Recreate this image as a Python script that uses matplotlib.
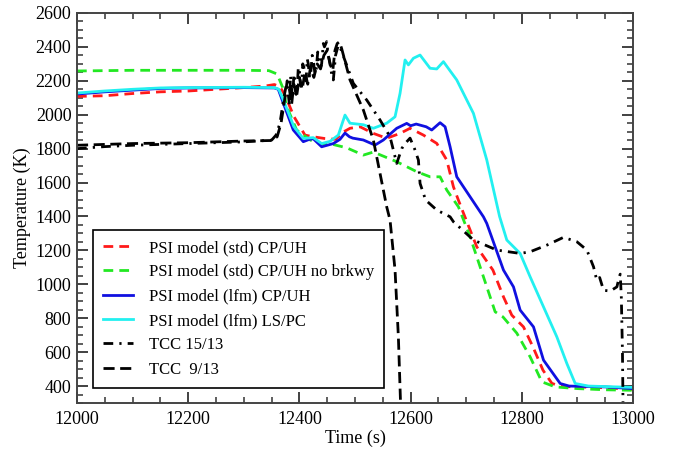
from matplotlib import pyplot as plt
from matplotlib.ticker import MultipleLocator

# Data
# PSI model (std) CP/UH
red_t = [12000, 12050, 12100, 12150, 12200, 12250, 12300, 12340, 12355, 12365, 12375, 12390,
         12410, 12425, 12445, 12465, 12480, 12491, 12509, 12533, 12557, 12581, 12599, 12623,
         12647, 12665, 12677, 12686, 12695, 12719, 12748, 12767, 12782, 12803, 12820, 12838,
         12854, 12870, 12950, 13000]
red_T = [2108, 2112, 2125, 2135, 2140, 2150, 2160, 2170, 2178, 2165, 2110, 1990,
         1880, 1870, 1860, 1855, 1900, 1920, 1929, 1890, 1861, 1890, 1920, 1880,
         1831, 1733, 1575, 1496, 1420, 1221, 1084, 926, 818, 749, 631, 494,
         416, 398, 390, 380]

# PSI model (std) CP/UH no brkwy
green_t = [12000, 12100, 12200, 12300, 12345, 12360, 12370, 12377, 12395, 12420, 12440, 12460,
           12485, 12515, 12533, 12575, 12611, 12635, 12653, 12665, 12686, 12707, 12737, 12752,
           12766, 12791, 12815, 12836, 12860, 12900, 12950, 13000]
green_T = [2258, 2262, 2262, 2262, 2260, 2240, 2160, 2050, 1910, 1850, 1830, 1825,
           1805, 1762, 1780, 1723, 1664, 1634, 1634, 1556, 1457, 1280, 985, 838,
           808, 712, 572, 425, 395, 385, 378, 375]

# PSI model (lfm) CP/UH
blue_t = [12000, 12050, 12100, 12150, 12200, 12300, 12355, 12362, 12371, 12389, 12407, 12418,
          12425, 12440, 12450, 12461, 12473, 12482, 12490, 12496, 12515, 12536, 12551, 12575,
          12593, 12600, 12610, 12628, 12638, 12653, 12662, 12671, 12683, 12707, 12731, 12737,
          12767, 12785, 12797, 12821, 12839, 12869, 12885, 12950, 13000]
blue_T = [2122, 2135, 2145, 2155, 2158, 2160, 2158, 2150, 2069, 1910, 1841, 1855,
          1858, 1811, 1820, 1830, 1855, 1892, 1870, 1862, 1851, 1821, 1851, 1920,
          1949, 1935, 1945, 1929, 1910, 1953, 1929, 1811, 1634, 1516, 1398, 1359,
          1084, 985, 848, 749, 553, 415, 400, 395, 385]

# PSI model (lfm) LS/PC
cyan_t = [12000, 12050, 12100, 12150, 12200, 12300, 12355, 12363, 12372, 12390, 12407, 12425,
          12440, 12455, 12470, 12482, 12491, 12515, 12533, 12557, 12572, 12581, 12590, 12596,
          12605, 12617, 12635, 12647, 12659, 12683, 12713, 12737, 12760, 12773, 12797, 12815,
          12839, 12863, 12881, 12896, 12920, 13000]
cyan_T = [2128, 2140, 2150, 2158, 2160, 2162, 2160, 2150, 2080, 1930, 1860, 1865,
          1830, 1843, 1880, 1998, 1950, 1941, 1920, 1950, 1988, 2126, 2323, 2294,
          2333, 2352, 2274, 2270, 2313, 2205, 2008, 1733, 1400, 1261, 1182, 1044,
          867, 690, 533, 415, 400, 392]

# TCC 15/13
tcc15_t = [12000, 12050, 12100, 12200, 12300, 12350, 12358, 12365, 12372, 12377, 12380, 12382,
           12384, 12386, 12388, 12390, 12392, 12394, 12396, 12398, 12400, 12402, 12404, 12406,
           12408, 12410, 12412, 12414, 12416, 12418, 12420, 12423, 12425, 12428, 12430, 12433,
           12435, 12438, 12440, 12443, 12445, 12449, 12452, 12455, 12458, 12461, 12465, 12470,
           12473, 12497, 12521, 12545, 12563, 12575, 12584, 12590, 12599, 12607, 12614, 12617,
           12627, 12647, 12671, 12677, 12713, 12755, 12797, 12815, 12845, 12875, 12899, 12917,
           12929, 12932, 12935, 12940, 12947, 12959, 12971, 12975, 12977, 12979, 12981, 12982]
tcc15_T = [1800, 1812, 1820, 1830, 1840, 1850, 1880, 1950, 2100, 2185, 2120, 2060,
           2230, 2150, 2100, 2240, 2200, 2120, 2150, 2280, 2260, 2170, 2180, 2300,
           2280, 2190, 2200, 2330, 2300, 2220, 2230, 2350, 2320, 2240, 2260, 2370,
           2340, 2280, 2300, 2420, 2400, 2431, 2350, 2300, 2240, 2205, 2350, 2411,
           2400, 2185, 2087, 1969, 1870, 1713, 1800, 1830, 1862, 1800, 1733, 1595,
           1497, 1438, 1398, 1369, 1261, 1202, 1182, 1192, 1231, 1277, 1251, 1202,
           1103, 1060, 1024, 1040, 965, 960, 985, 1040, 1060, 920, 600, 290]

# TCC 9/13
tcc9_t = [12000, 12050, 12100, 12200, 12300, 12350, 12360, 12367, 12374, 12378, 12382, 12386,
          12390, 12395, 12400, 12405, 12410, 12415, 12420, 12426, 12432, 12438, 12444, 12450,
          12456, 12460, 12464, 12468, 12472, 12476, 12491, 12515, 12533, 12545, 12557, 12563,
          12572, 12578, 12582]
tcc9_T = [1820, 1825, 1830, 1835, 1845, 1848, 1870, 1950, 2100, 2200, 2150, 2060,
          2180, 2110, 2220, 2150, 2250, 2180, 2280, 2220, 2300, 2270, 2350, 2380,
          2290, 2260, 2380, 2420, 2430, 2390, 2205, 2028, 1851, 1654, 1457, 1379,
          1084, 690, 290]

plt.rcParams['font.family'] = ['Liberation Serif', 'DejaVu Serif']

fig = plt.figure(figsize=(6.73, 4.54), dpi=100)
ax = fig.add_axes([0.1144, 0.1123, 0.8262, 0.8591])

lw = 2.0
ax.plot(red_t, red_T, color='#ff1a1a', lw=lw, dashes=(3.5, 2.2), label='PSI model (std) CP/UH')
ax.plot(green_t, green_T, color='#22e822', lw=lw, dashes=(3.5, 2.2), label='PSI model (std) CP/UH no brkwy')
ax.plot(blue_t, blue_T, color='#1010e0', lw=lw, label='PSI model (lfm) CP/UH')
ax.plot(cyan_t, cyan_T, color='#22f0f0', lw=lw, label='PSI model (lfm) LS/PC')
ax.plot(tcc15_t, tcc15_T, color='black', lw=lw, dashes=(3.5, 2.2, 0.8, 2.2), label='TCC 15/13')
ax.plot(tcc9_t, tcc9_T, color='black', lw=lw, dashes=(4.0, 2.0), label='TCC  9/13')

ax.set_xlim(12000, 13000)
ax.set_ylim(300, 2600)
ax.xaxis.set_major_locator(MultipleLocator(200))
ax.xaxis.set_minor_locator(MultipleLocator(50))
ax.yaxis.set_major_locator(MultipleLocator(200))
ax.yaxis.set_minor_locator(MultipleLocator(50))
ax.tick_params(which='both', direction='in', top=True, right=True, colors='#333333',
               labelcolor='black', labelsize=13)
ax.tick_params(which='major', length=8, width=1.3)
ax.tick_params(which='minor', length=4.5, width=1.1)
ax.tick_params(axis='y', pad=4)
ax.tick_params(axis='x', pad=6)
for s in ax.spines.values():
    s.set_color('#444444')
    s.set_linewidth(1.4)

ax.set_xlabel('Time (s)', fontsize=13, labelpad=1)
ax.set_ylabel('Temperature (K)', fontsize=13, labelpad=3)

leg = ax.legend(loc='upper left', bbox_to_anchor=(0.028, 0.4436), fontsize=12,
                fancybox=False, framealpha=1, edgecolor='black', handlelength=1.8,
                handletextpad=1.0, labelspacing=0.5, borderpad=0.6, borderaxespad=0)
leg.get_frame().set_linewidth(1.2)

plt.savefig('out.png', dpi=100)
